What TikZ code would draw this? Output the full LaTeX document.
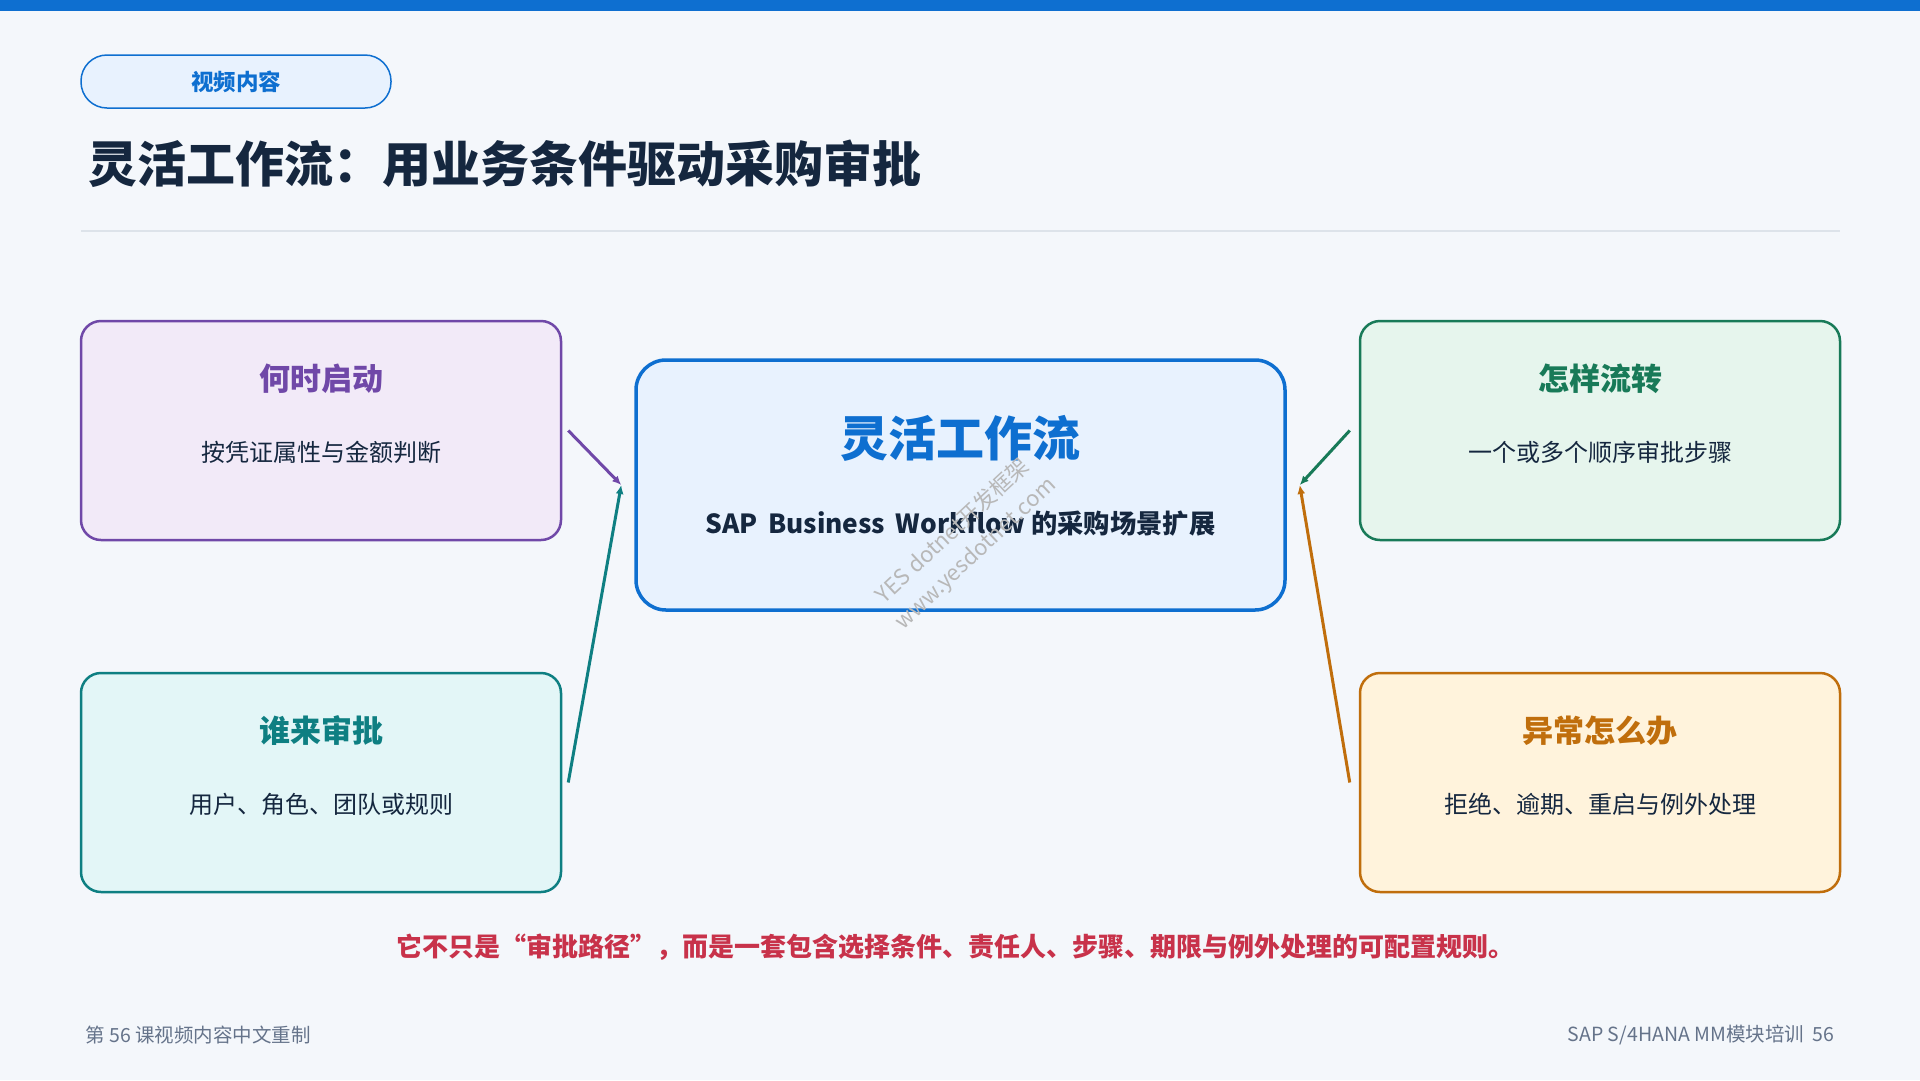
\documentclass[tikz,border=0pt]{standalone}
\usepackage{fontspec}
\setmainfont{Noto Sans CJK SC}
\usetikzlibrary{arrows.meta}

\definecolor{pagebg}{HTML}{F4F7FB}
\definecolor{mainblue}{HTML}{0E6FD0}
\definecolor{paleblue}{HTML}{E8F2FE}
\definecolor{ink}{HTML}{15273F}
\definecolor{rulegray}{HTML}{DDE3EA}
\definecolor{footgray}{HTML}{65738A}
\definecolor{alertred}{HTML}{C8324A}
\definecolor{cpurple}{HTML}{7048A8}
\definecolor{fpurple}{HTML}{F2EAF8}
\definecolor{cteal}{HTML}{0E7F82}
\definecolor{fteal}{HTML}{E3F6F7}
\definecolor{cgreen}{HTML}{187A58}
\definecolor{fgreen}{HTML}{E6F5ED}
\definecolor{corange}{HTML}{C06E0C}
\definecolor{forange}{HTML}{FFF3DC}

\tikzset{
  sidebox/.style={rounded corners=20pt, line width=2.5pt, minimum width=480pt, minimum height=219pt},
  boxhead/.style={font=\fontsize{31}{37}\selectfont\bfseries},
  boxtext/.style={text=ink, font=\fontsize{24}{29}\selectfont},
  flow/.style={line width=3pt, -{Latex[length=9pt,width=8pt]}},
  wmark/.style={rotate=43, text=black!28, font=\fontsize{22}{26}\selectfont},
}

\begin{document}
\begin{tikzpicture}[x=1pt,y=-1pt]

\def\xl{321};   % left column
\def\xr{1600};  % right column
\def\yt{430.5}; % top row
\def\yb{782.5}; % bottom row

\useasboundingbox (0,0) rectangle (1920,1080);
\fill[pagebg] (0,0) rectangle (1920,1080);
\fill[mainblue] (0,0) rectangle (1920,11);

% header
\node[draw=mainblue, fill=paleblue, line width=1.5pt, rounded corners=26pt,
      minimum width=310pt, minimum height=53pt, text=mainblue,
      font=\fontsize{22.5}{27}\selectfont\bfseries] (tag) at (236,81.5) {视频内容};
\node[anchor=west, text=ink, font=\fontsize{49}{58}\selectfont\bfseries] (title) at (85,164)
  {灵活工作流：用业务条件驱动采购审批};
\draw[rulegray, line width=2pt] (81,231) -- (1840,231);

% centre
\node[draw=mainblue, fill=paleblue, line width=3.5pt, rounded corners=30pt,
      minimum width=649pt, minimum height=250pt] (hub) at (960.5,485) {};
\node[text=mainblue, font=\fontsize{48}{56}\selectfont\bfseries] (hubT) at (960.5,438) {灵活工作流};
\node[text=ink, font=\fontsize{26.3}{32}\selectfont\bfseries] (hubS) at (960.5,524)
  {SAP\, Business\, Workflow 的采购场景扩展};

% four questions
\node[sidebox, draw=cpurple, fill=fpurple] (when) at (\xl,\yt) {};
\node[boxhead, text=cpurple] (whenT) at (\xl,\yt-52) {何时启动};
\node[boxtext] (whenS) at (\xl,\yt+22) {按凭证属性与金额判断};

\node[sidebox, draw=cteal, fill=fteal] (who) at (\xl,\yb) {};
\node[boxhead, text=cteal] (whoT) at (\xl,\yb-52) {谁来审批};
\node[boxtext] (whoS) at (\xl,\yb+22) {用户、角色、团队或规则};

\node[sidebox, draw=cgreen, fill=fgreen] (how) at (\xr,\yt) {};
\node[boxhead, text=cgreen] (howT) at (\xr,\yt-52) {怎样流转};
\node[boxtext] (howS) at (\xr,\yt+22) {一个或多个顺序审批步骤};

\node[sidebox, draw=corange, fill=forange] (exc) at (\xr,\yb) {};
\node[boxhead, text=corange] (excT) at (\xr,\yb-52) {异常怎么办};
\node[boxtext] (excS) at (\xr,\yb+22) {拒绝、逾期、重启与例外处理};

\draw[flow, cpurple] ([xshift=6pt]when.east) -- ([xshift=-13pt]hub.west);
\draw[flow, cteal] ([xshift=6pt]who.east) -- ([xshift=-13pt]hub.west);
\draw[flow, cgreen] ([xshift=-9pt]how.west) -- ([xshift=13pt]hub.east);
\draw[flow, corange] ([xshift=-9pt]exc.west) -- ([xshift=13pt]hub.east);

% watermark
\node[wmark] (wm1) at (952,530) {YES dotnet开发框架};
\node[wmark] (wm2) at (976,554) {www.yesdotnet.com};

% footer
\node[text=alertred, font=\fontsize{26}{30}\selectfont\bfseries] (note) at (955,947)
  {它不只是“审批路径”，而是一套包含选择条件、责任人、步骤、期限与例外处理的可配置规则。};
\node[anchor=west, text=footgray, font=\fontsize{19.5}{23}\selectfont] (footL) at (82,1035) {第 56 课视频内容中文重制};
\node[anchor=east, text=footgray, font=\fontsize{19.5}{23}\selectfont] (footR) at (1838,1035) {SAP S/4HANA MM模块培训\ \ 56};

\end{tikzpicture}
\end{document}
